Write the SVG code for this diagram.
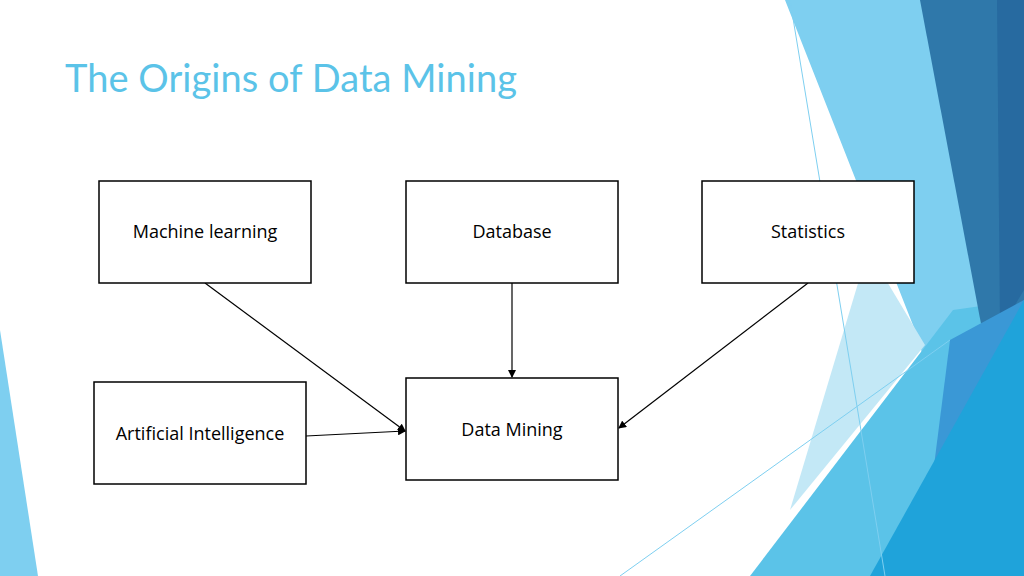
<svg xmlns="http://www.w3.org/2000/svg" width="1024" height="576" viewBox="0 0 1024 576">
<defs>
<style>
.box{fill:#fff;stroke:#000;stroke-width:1.5}
.lbl{font-family:"Open Sans","Liberation Sans",sans-serif;font-size:18px;fill:#000;text-anchor:middle}
.con{stroke:#000;stroke-width:1.2;fill:none;marker-end:url(#ah)}
</style>
<marker id="ah" markerWidth="8" markerHeight="8" refX="7" refY="4" orient="auto" markerUnits="userSpaceOnUse"><path d="M0,0 L8,4 L0,8 Z" fill="#000"/></marker>
</defs>
<rect width="1024" height="576" fill="#fff"/>
<g id="background">
<polygon points="785,0 1024,0 1024,576 960,576 920,343" fill="#7ecff0"/>
<polygon points="868,250 925,345 790,510" fill="#c3e8f6"/>
<polygon points="750,576 953,310 1024,300 1024,576" fill="#5bc3e8"/>
<polygon points="920,0 1024,0 1024,330 985,345" fill="#2f78aa"/>
<polygon points="997,0 1024,0 1024,290 1000,330" fill="#276aa0"/>
<polygon points="950,340 1024,300 1024,576 920,576" fill="#3a98d6"/>
<polygon points="870,576 1024,300 1024,576" fill="#1fa3da"/>
<line x1="790" y1="0" x2="885" y2="576" stroke="#7ecff0" stroke-width="1"/>
<line x1="620" y1="576" x2="950" y2="340" stroke="#7ecff0" stroke-width="1"/>
<polygon points="0,330 38,576 0,576" fill="#7ecff0"/>
</g>
<text x="65" y="92" font-family="Lato,'Open Sans',sans-serif" font-size="38" fill="#5bc3e8" textLength="452">The Origins of Data Mining</text>
<g id="connectors">
<line class="con" x1="205" y1="283" x2="405" y2="431"/>
<line class="con" x1="512" y1="283" x2="512" y2="377"/>
<line class="con" x1="808" y1="283" x2="619" y2="428"/>
<line class="con" x1="306" y1="436" x2="405" y2="431"/>
</g>
<g id="ml"><rect class="box" x="99" y="181" width="212" height="102"/><text class="lbl" x="205" y="238">Machine learning</text></g>
<g id="db"><rect class="box" x="406" y="181" width="212" height="102"/><text class="lbl" x="512" y="238">Database</text></g>
<g id="stat"><rect class="box" x="702" y="181" width="212" height="102"/><text class="lbl" x="808" y="238">Statistics</text></g>
<g id="ai"><rect class="box" x="94" y="382" width="212" height="102"/><text class="lbl" x="200" y="440">Artificial Intelligence</text></g>
<g id="dm"><rect class="box" x="406" y="378" width="212" height="102"/><text class="lbl" x="512" y="436">Data Mining</text></g>
</svg>
